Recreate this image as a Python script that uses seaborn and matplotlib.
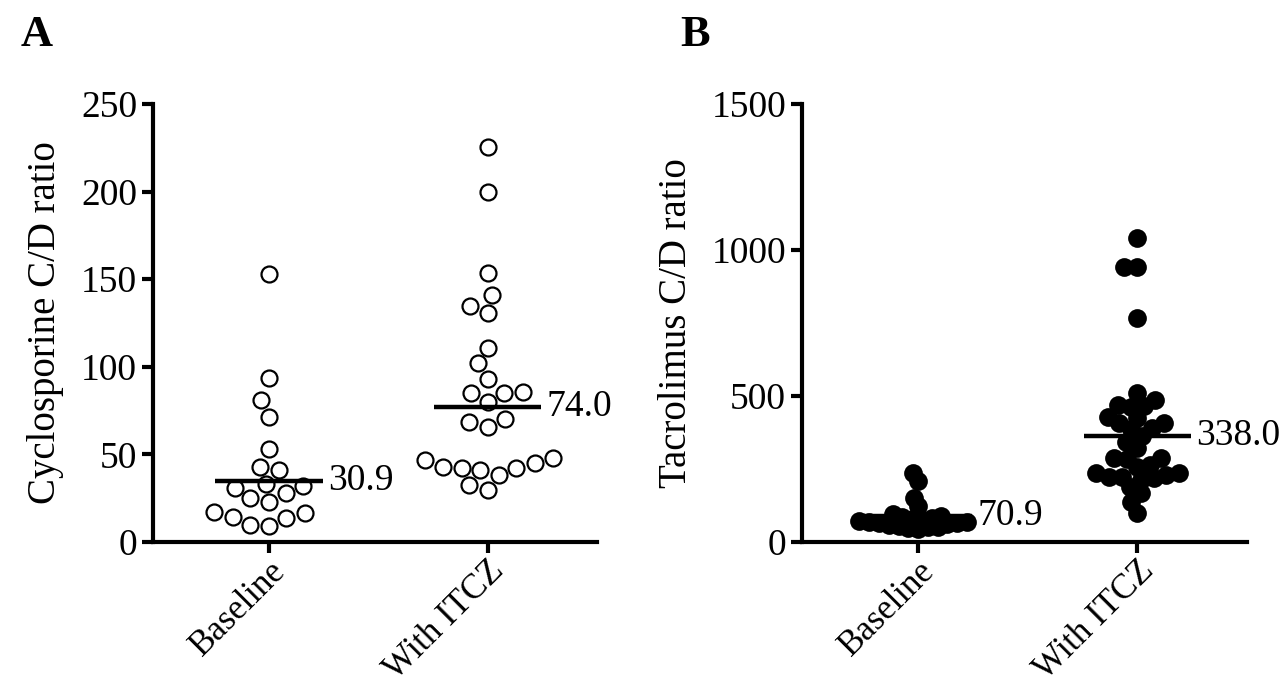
import numpy as np
import pandas as pd
import matplotlib
matplotlib.use("Agg")
import matplotlib.pyplot as plt
from matplotlib.collections import PathCollection
import seaborn as sns

# ---------------- data ----------------
categories = ["Baseline", "With ITCZ"]

cyclo_baseline = [153, 93.4, 81, 71.5, 52.9, 41, 43, 33, 32, 31, 27.8, 22.7, 25,
                  17.3, 13.9, 16.4, 14.5, 9.7, 9.3]
cyclo_itcz = [225.6, 200, 153.4, 141, 134.7, 130.9, 111, 102, 93, 85.8, 85, 85, 80,
              70, 68.7, 65.8, 47.8, 46.8, 45, 43, 42, 42, 41, 38.2, 32.5, 29.7]

tacro_baseline = [237, 210, 152, 122, 95, 88, 85, 82, 78, 75, 72, 70, 68, 66, 64,
                  60, 58, 55, 52, 50, 48, 45]
tacro_itcz = [1040, 941, 941, 768, 511, 486, 469, 461, 466, 429, 424, 406, 409, 389,
              386, 363, 343, 323, 287, 283, 287, 235, 235, 224, 229, 218, 212, 258,
              264, 224, 189, 167, 138, 100]

cyclo_line_levels = [34.8, 77.3]
cyclo_labels = ["30.9", "74.0"]
tacro_line_levels = [90, 363]
tacro_labels = ["70.9", "338.0"]

cyclo_yticks = [0, 50, 100, 150, 200, 250]
tacro_yticks = [0, 500, 1000, 1500]

# ---------------- style ----------------
sns.set_style("ticks")
plt.rcParams["font.family"] = ["Liberation Serif", "DejaVu Serif"]
plt.rcParams.update({
    "axes.linewidth": 3,
    "axes.edgecolor": "black",
    "axes.labelcolor": "black",
    "text.color": "black",
    "xtick.color": "black",
    "ytick.color": "black",
})

W, H = 1279, 684
fig = plt.figure(figsize=(W / 100, H / 100), dpi=100)
axA = fig.add_axes([153 / W, 142 / H, 444 / W, 438 / H])
axB = fig.add_axes([802 / W, 142 / H, 445 / W, 438 / H])

dfA = pd.DataFrame({
    "group": ["Baseline"] * len(cyclo_baseline) + ["With ITCZ"] * len(cyclo_itcz),
    "value": cyclo_baseline + cyclo_itcz,
})
dfB_base = pd.DataFrame({"group": ["Baseline"] * len(tacro_baseline), "value": tacro_baseline})
dfB_itcz = pd.DataFrame({"group": ["With ITCZ"] * len(tacro_itcz), "value": tacro_itcz})

sns.swarmplot(data=dfA, x="group", y="value", order=categories, ax=axA,
              color="white", edgecolor="black", linewidth=1.6, size=11.5)
# tacrolimus: dense filled dots that overlap (layout computed with a smaller size)
sns.swarmplot(data=dfB_base, x="group", y="value", order=categories, ax=axB,
              color="black", linewidth=0, size=6.8, warn_thresh=1)
sns.swarmplot(data=dfB_itcz, x="group", y="value", order=categories, ax=axB,
              color="black", linewidth=0, size=9.0, warn_thresh=1)

FS = 27


def finish(ax, levels, labels, yticks, ylabel, ymax):
    for i, (lv, lab) in enumerate(zip(levels, labels)):
        ax.hlines(lv, i - 0.245, i + 0.245, color="black", lw=3.2, zorder=5)
        ax.text(i + 0.27, lv, lab, va="center", ha="left", fontsize=FS)
    ax.set_ylim(0, ymax)
    ax.set_yticks(yticks)
    ax.set_xlim(-0.53, 1.50)
    ax.set_xlabel("")
    ax.set_ylabel(ylabel, fontsize=FS + 1, labelpad=12)
    ax.tick_params(axis="y", labelsize=FS, width=3, length=8, direction="out")
    ax.tick_params(axis="x", labelsize=FS - 2, width=3, length=8, direction="out", pad=1)
    ax.set_xticks([0, 1])
    ax.set_xticklabels(categories, rotation=45, ha="right", rotation_mode="anchor")
    for spine in ["top", "right"]:
        ax.spines[spine].set_visible(False)
    ax.spines["left"].set_bounds(0, ymax)


finish(axA, cyclo_line_levels, cyclo_labels, cyclo_yticks, "Cyclosporine C/D ratio", 250)
finish(axB, tacro_line_levels, tacro_labels, tacro_yticks, "Tacrolimus C/D ratio", 1500)

fig.text(37 / W, 1 - 35 / H, "A", fontsize=32, fontweight="bold", ha="center", va="center")
fig.text(695 / W, 1 - 35 / H, "B", fontsize=32, fontweight="bold", ha="center", va="center")

# compute the swarm layout once with the small sizes, then freeze it and
# enlarge the filled markers so they overlap as in the reference
fig.canvas.draw()
for coll in axB.collections:
    if isinstance(coll, PathCollection):
        if "draw" in coll.__dict__:
            del coll.draw
        coll.set_sizes([13.5 ** 2])

fig.savefig("out.png", dpi=100)
